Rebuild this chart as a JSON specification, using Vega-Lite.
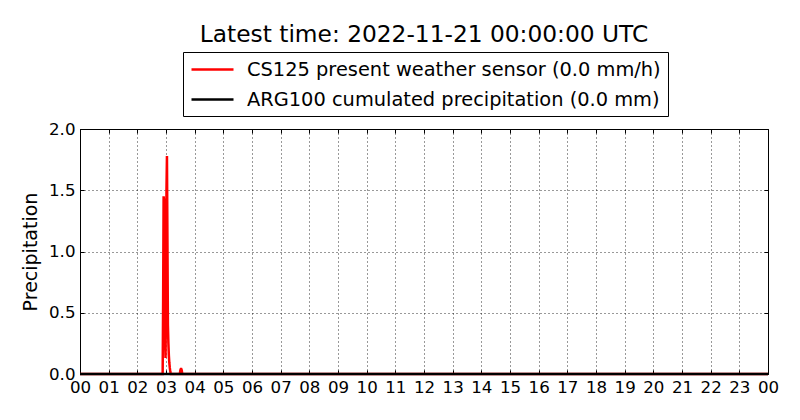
{
  "$schema": "https://vega.github.io/schema/vega-lite/v6.json",
  "width": 688,
  "height": 245,
  "autosize": {"type": "none"},
  "padding": {"left": 80, "top": 129, "right": 32, "bottom": 46},
  "background": "white",
  "title": {
    "text": "Latest time: 2022-11-21 00:00:00 UTC",
    "fontSize": 23.3,
    "font": "DejaVu Sans",
    "fontWeight": "normal",
    "color": "black",
    "anchor": "middle",
    "baseline": "alphabetic",
    "offset": -14
  },
  "config": {
    "view": {"stroke": "black", "strokeWidth": 1},
    "axis": {
      "domain": false,
      "ticks": true,
      "tickSize": -4,
      "tickColor": "black",
      "tickWidth": 1,
      "labelFont": "DejaVu Sans",
      "labelFontSize": 16.67,
      "labelColor": "black",
      "titleFont": "DejaVu Sans",
      "titleFontSize": 19,
      "titleFontWeight": "normal",
      "titleColor": "black",
      "gridColor": "black",
      "gridDash": [1, 3],
      "gridOpacity": 0.8,
      "gridWidth": 1,
      "labelPadding": 9
    }
  },
  "data": {
    "values": [
      {"t": "2022-11-20T00:00:00Z", "v": 0, "s": "CS125 present weather sensor (0.0 mm/h)"},
      {"t": "2022-11-20T02:53:00Z", "v": 0, "s": "CS125 present weather sensor (0.0 mm/h)"},
      {"t": "2022-11-20T02:54:00Z", "v": 0.6, "s": "CS125 present weather sensor (0.0 mm/h)"},
      {"t": "2022-11-20T02:55:00Z", "v": 1.45, "s": "CS125 present weather sensor (0.0 mm/h)"},
      {"t": "2022-11-20T02:56:00Z", "v": 1.42, "s": "CS125 present weather sensor (0.0 mm/h)"},
      {"t": "2022-11-20T02:57:00Z", "v": 0.9, "s": "CS125 present weather sensor (0.0 mm/h)"},
      {"t": "2022-11-20T02:58:00Z", "v": 0.3, "s": "CS125 present weather sensor (0.0 mm/h)"},
      {"t": "2022-11-20T02:59:00Z", "v": 0.13, "s": "CS125 present weather sensor (0.0 mm/h)"},
      {"t": "2022-11-20T03:00:00Z", "v": 0.6, "s": "CS125 present weather sensor (0.0 mm/h)"},
      {"t": "2022-11-20T03:01:00Z", "v": 1.5, "s": "CS125 present weather sensor (0.0 mm/h)"},
      {"t": "2022-11-20T03:02:00Z", "v": 1.78, "s": "CS125 present weather sensor (0.0 mm/h)"},
      {"t": "2022-11-20T03:03:00Z", "v": 1.1, "s": "CS125 present weather sensor (0.0 mm/h)"},
      {"t": "2022-11-20T03:04:00Z", "v": 0.4, "s": "CS125 present weather sensor (0.0 mm/h)"},
      {"t": "2022-11-20T03:05:00Z", "v": 0.25, "s": "CS125 present weather sensor (0.0 mm/h)"},
      {"t": "2022-11-20T03:06:00Z", "v": 0.15, "s": "CS125 present weather sensor (0.0 mm/h)"},
      {"t": "2022-11-20T03:07:00Z", "v": 0.09, "s": "CS125 present weather sensor (0.0 mm/h)"},
      {"t": "2022-11-20T03:08:00Z", "v": 0.05, "s": "CS125 present weather sensor (0.0 mm/h)"},
      {"t": "2022-11-20T03:09:00Z", "v": 0.02, "s": "CS125 present weather sensor (0.0 mm/h)"},
      {"t": "2022-11-20T03:10:00Z", "v": 0, "s": "CS125 present weather sensor (0.0 mm/h)"},
      {"t": "2022-11-20T03:29:00Z", "v": 0, "s": "CS125 present weather sensor (0.0 mm/h)"},
      {"t": "2022-11-20T03:30:00Z", "v": 0.03, "s": "CS125 present weather sensor (0.0 mm/h)"},
      {"t": "2022-11-20T03:31:00Z", "v": 0.04, "s": "CS125 present weather sensor (0.0 mm/h)"},
      {"t": "2022-11-20T03:32:00Z", "v": 0.04, "s": "CS125 present weather sensor (0.0 mm/h)"},
      {"t": "2022-11-20T03:33:00Z", "v": 0.03, "s": "CS125 present weather sensor (0.0 mm/h)"},
      {"t": "2022-11-20T03:34:00Z", "v": 0, "s": "CS125 present weather sensor (0.0 mm/h)"},
      {"t": "2022-11-21T00:00:00Z", "v": 0, "s": "CS125 present weather sensor (0.0 mm/h)"},
      {"t": "2022-11-20T00:00:00Z", "v": 0, "s": "ARG100 cumulated precipitation (0.0 mm)"},
      {"t": "2022-11-21T00:00:00Z", "v": 0, "s": "ARG100 cumulated precipitation (0.0 mm)"}
    ]
  },
  "resolve": {"axis": {"x": "independent", "y": "independent"}},
  "layer": [
    {
      "transform": [{"filter": "datum.s === 'CS125 present weather sensor (0.0 mm/h)'"}],
      "mark": {"type": "line", "strokeWidth": 2.5},
      "encoding": {
        "x": {
          "field": "t",
          "type": "temporal",
          "scale": {"type": "utc", "domain": [1668902400000, 1668988800000], "nice": false},
          "axis": {
            "orient": "bottom",
            "title": null,
            "format": "%H",
            "tickCount": 24,
            "labelOverlap": false,
            "labelFlush": false,
            "grid": true
          }
        },
        "y": {
          "field": "v",
          "type": "quantitative",
          "scale": {"domain": [0, 2], "nice": false, "zero": true},
          "axis": {
            "orient": "left",
            "title": "Precipitation",
            "values": [0, 0.5, 1, 1.5, 2],
            "format": ".1f",
            "titlePadding": 8,
            "grid": true
          }
        },
        "color": {
          "field": "s",
          "type": "nominal",
          "scale": {
            "domain": ["CS125 present weather sensor (0.0 mm/h)", "ARG100 cumulated precipitation (0.0 mm)"],
            "range": ["#ff0000", "#000000"]
          },
          "legend": {
            "orient": "none",
            "legendX": 103,
            "legendY": -77,
            "title": null,
            "symbolType": "M-1,0H3.667",
            "symbolSize": 324,
            "symbolStrokeWidth": 2.5,
            "labelFontSize": 19.4,
            "labelFont": "DejaVu Sans",
            "labelColor": "black",
            "labelOffset": 36,
            "labelLimit": 700,
            "padding": 7,
            "rowPadding": 10,
            "strokeColor": "black",
            "fillColor": "white",
            "cornerRadius": 0
          }
        }
      }
    },
    {
      "transform": [{"filter": "datum.s === 'ARG100 cumulated precipitation (0.0 mm)'"}],
      "mark": {"type": "line", "strokeWidth": 2.5},
      "encoding": {
        "x": {
          "field": "t",
          "type": "temporal",
          "axis": {
            "orient": "top",
            "title": null,
            "labels": false,
            "tickCount": 24,
            "grid": false
          }
        },
        "y": {
          "field": "v",
          "type": "quantitative",
          "axis": {
            "orient": "right",
            "title": null,
            "labels": false,
            "values": [0, 0.5, 1, 1.5, 2],
            "grid": false
          }
        },
        "color": {"field": "s", "type": "nominal"}
      }
    }
  ]
}
